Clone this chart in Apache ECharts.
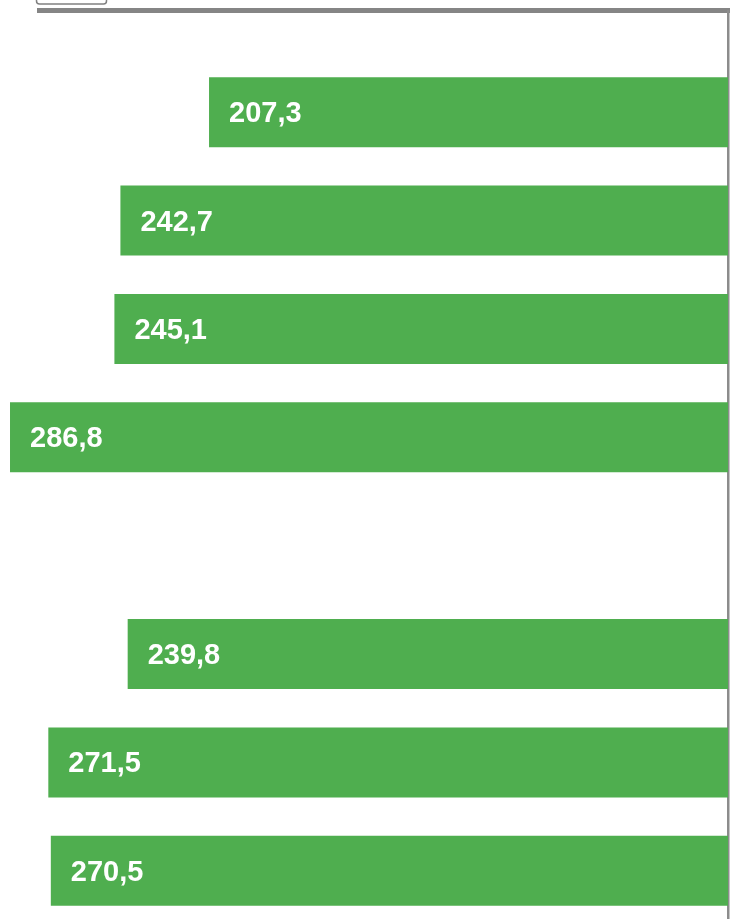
<!DOCTYPE html>
<html>
<head>
<meta charset="utf-8">
<script src="https://cdn.jsdelivr.net/npm/echarts@6/dist/echarts.min.js"></script>
<style>
  html, body { margin: 0; padding: 0; background: #fff; overflow: hidden; }
  /* a bit taller than the window: the last bar row runs past the bottom edge */
  #chart { width: 730px; height: 926px; }
</style>
</head>
<body>
<div id="chart"></div>
<script>
// rows top to bottom, one empty slot between the two groups
var categories = ['a1', 'a2', 'a3', 'a4', 'gap', 'b1', 'b2', 'b3'];
var values = [207.3, 242.7, 245.1, 286.8, null, 239.8, 271.5, 270.5];

var chart = echarts.init(document.getElementById('chart'));

chart.setOption({
    animation: false,
    grid: {
        left: 2,
        right: 2,
        top: 58,
        height: 867,
        containLabel: false
    },
    xAxis: {
        type: 'value',
        inverse: true,
        min: 0,
        max: 290,
        show: false
    },
    yAxis: {
        type: 'category',
        inverse: true,
        data: categories,
        show: false
    },
    series: [{
        type: 'bar',
        data: values,
        barWidth: 70,
        itemStyle: { color: '#4fae4f' },
        label: {
            show: true,
            position: 'insideLeft',
            distance: 20,
            offset: [0, 2],
            color: '#fff',
            fontFamily: 'Liberation Sans, Arial, sans-serif',
            fontWeight: 'bold',
            fontSize: 29,
            formatter: function (p) {
                return p.value == null ? '' : p.value.toFixed(1).replace('.', ',');
            }
        }
    }],
    graphic: [
        // top frame band
        { type: 'rect', shape: { x: 37, y: 8, width: 693, height: 5 }, style: { fill: '#858585' } },
        // right frame line
        { type: 'rect', shape: { x: 727, y: 10, width: 2.5, height: 916 }, style: { fill: '#8c8c8c' } },
        // small box peeking at the top left
        { type: 'rect', shape: { x: 36.5, y: -10, width: 70, height: 14, r: 3 },
          style: { fill: '#fff', stroke: '#808080', lineWidth: 1.5 } }
    ]
});
</script>
</body>
</html>
